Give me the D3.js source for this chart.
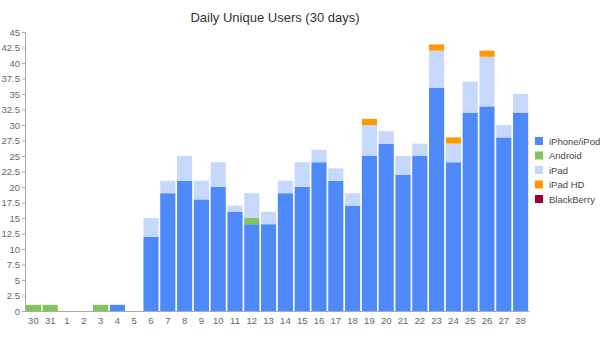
<!DOCTYPE html>
<html>
<head>
<meta charset="utf-8">
<script src="https://cdn.jsdelivr.net/npm/d3@7"></script>
<style>
  html, body { margin: 0; padding: 0; background: #fff; }
  svg { display: block; font-family: "Liberation Sans", Arial, sans-serif; }
</style>
</head>
<body>
<svg id="chart" width="600" height="337"></svg>
<script>
const days = ["30","31","1","2","3","4","5","6","7","8","9","10","11","12","13","14","15","16","17","18","19","20","21","22","23","24","25","26","27","28"];
const iphone    = [0,0,0,0,0,1,0,12,19,21,18,20,16,14,14,19,20,24,21,17,25,27,22,25,36,24,32,33,28,32];
const android   = [1,1,0,0,1,0,0,0,0,0,0,0,0,1,0,0,0,0,0,0,0,0,0,0,0,0,0,0,0,0];
const ipad      = [0,0,0,0,0,0,0,3,2,4,3,4,1,4,2,2,4,2,2,2,5,2,3,2,6,3,5,8,2,3];
const ipadHD    = [0,0,0,0,0,0,0,0,0,0,0,0,0,0,0,0,0,0,0,0,1,0,0,0,1,1,0,1,0,0];
const blackberry= [0,0,0,0,0,0,0,0,0,0,0,0,0,0,0,0,0,0,0,0,0,0,0,0,0,0,0,0,0,0];
const seriesNames = ["iPhone/iPod","Android","iPad","iPad HD","BlackBerry"];
const seriesColors = ["#4d89f9","#80c65a","#c6d9fd","#ff9900","#990033"];
const yTicks = [0,2.5,5,7.5,10,12.5,15,17.5,20,22.5,25,27.5,30,32.5,35,37.5,40,42.5,45];
const title = "Daily Unique Users (30 days)";

const seriesValues = [iphone, android, ipad, ipadHD, blackberry];
const rows = days.map((d, i) => {
  const r = { day: d };
  seriesNames.forEach((n, k) => r[n] = seriesValues[k][i]);
  return r;
});

const svg = d3.select("#chart");
const x = d3.scaleBand().domain(days).range([25, 529]).paddingInner(0.1).paddingOuter(0.05);
const y = d3.scaleLinear().domain([0, 45]).range([311, 32]);
const color = d3.scaleOrdinal().domain(seriesNames).range(seriesColors);

const stack = d3.stack().keys(seriesNames);
const layers = stack(rows);

svg.append("g").selectAll("g").data(layers).join("g")
  .attr("fill", d => color(d.key))
  .selectAll("rect").data(d => d).join("rect")
  .attr("x", d => x(d.data.day))
  .attr("width", x.bandwidth())
  .attr("y", d => y(d[1]))
  .attr("height", d => y(d[0]) - y(d[1]));

// Y axis
const yAxis = svg.append("g").attr("transform", "translate(25,0)")
  .call(d3.axisLeft(y).tickValues(yTicks).tickSize(3).tickPadding(2).tickFormat(d => String(d)));
yAxis.select(".domain").attr("stroke", "#aaa");
yAxis.selectAll(".tick line").attr("stroke", "#aaa");
yAxis.selectAll("text").attr("fill", "#666").style("font-size", "9.5px");

// X axis
const xAxis = svg.append("g").attr("transform", "translate(0,311)")
  .call(d3.axisBottom(x).tickSize(0).tickPadding(6));
xAxis.select(".domain").attr("stroke", "#aaa");
xAxis.selectAll("text").attr("fill", "#666").style("font-size", "9.5px");

// Title
svg.append("text").attr("x", 275).attr("y", 22).attr("text-anchor", "middle")
  .attr("fill", "#333").style("font-size", "13px").text(title);

// Legend
const legend = svg.append("g").selectAll("g").data(seriesNames).join("g")
  .attr("transform", (d, i) => `translate(535,${137 + i * 14.5})`);
legend.append("rect").attr("width", 8).attr("height", 8).attr("fill", d => color(d));
legend.append("text").attr("x", 14).attr("y", 7.5).attr("fill", "#444")
  .style("font-size", "9.5px").text(d => d);
</script>
</body>
</html>
